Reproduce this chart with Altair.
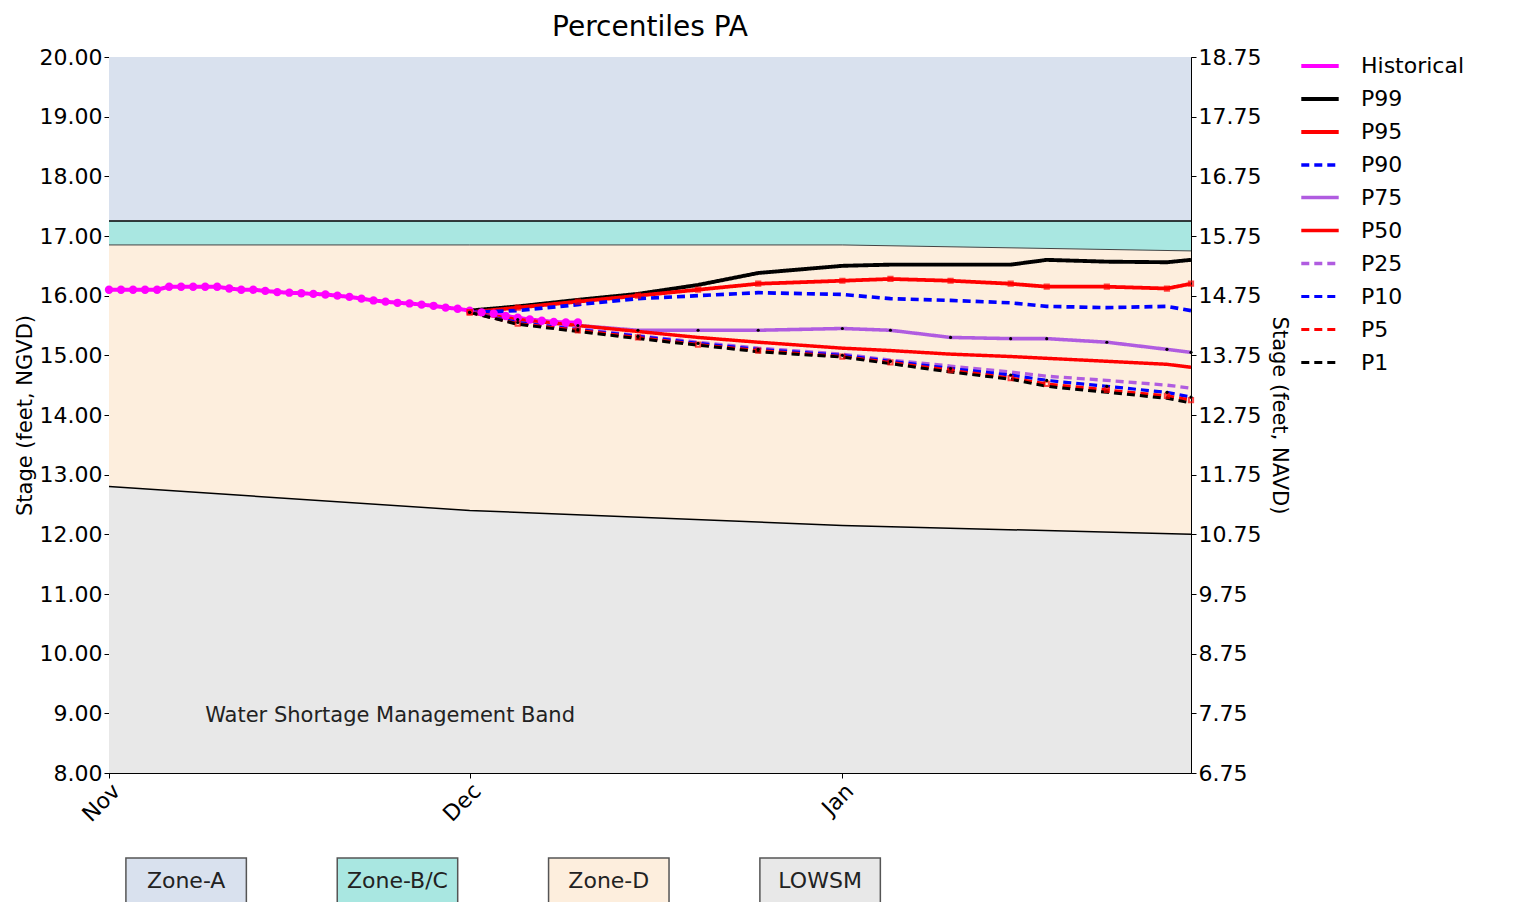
import altair as alt
import pandas as pd

# zone boundaries
zone_dates = ["2023-11-01", "2023-12-01", "2024-01-01", "2024-01-30"]
lowsm = [12.8, 12.4, 12.15, 12.0]
zone_bc_low = [16.85, 16.85, 16.85, 16.75]
zone_a_low = [17.25, 17.25, 17.25, 17.25]
top = [20, 20, 20, 20]
bottom = [8, 8, 8, 8]

hist_dates = pd.date_range("2023-11-01", "2023-12-10").strftime("%Y-%m-%d").tolist()
hist_vals = [16.1, 16.1, 16.1, 16.1, 16.1, 16.15, 16.15, 16.15, 16.15, 16.15,
             16.12, 16.1, 16.1, 16.08, 16.06, 16.05, 16.04, 16.03, 16.02, 16.0,
             15.98, 15.95, 15.92, 15.9, 15.88, 15.87, 15.85, 15.83, 15.8, 15.78,
             15.75, 15.72, 15.7, 15.66, 15.63, 15.6, 15.58, 15.56, 15.55, 15.55]

pct_dates = ["2023-12-01", "2023-12-05", "2023-12-10", "2023-12-15", "2023-12-20",
             "2023-12-25", "2024-01-01", "2024-01-05", "2024-01-10", "2024-01-15",
             "2024-01-18", "2024-01-23", "2024-01-28", "2024-01-30"]
pct = {
    "P99": [15.75, 15.82, 15.93, 16.03, 16.18, 16.38, 16.5, 16.52, 16.52, 16.52, 16.6, 16.57, 16.56, 16.6],
    "P95": [15.72, 15.8, 15.9, 16.0, 16.1, 16.2, 16.25, 16.28, 16.25, 16.2, 16.15, 16.15, 16.12, 16.2],
    "P90": [15.72, 15.75, 15.85, 15.95, 16.0, 16.05, 16.02, 15.95, 15.92, 15.88, 15.82, 15.8, 15.82, 15.75],
    "P75": [15.72, 15.6, 15.5, 15.42, 15.42, 15.42, 15.45, 15.42, 15.3, 15.28, 15.28, 15.22, 15.1, 15.05],
    "P50": [15.72, 15.6, 15.5, 15.4, 15.3, 15.22, 15.12, 15.08, 15.02, 14.98, 14.95, 14.9, 14.85, 14.8],
    "P25": [15.72, 15.55, 15.45, 15.33, 15.22, 15.12, 15.02, 14.92, 14.82, 14.72, 14.65, 14.58, 14.5, 14.45],
    "P10": [15.72, 15.55, 15.43, 15.32, 15.2, 15.1, 15.0, 14.9, 14.78, 14.67, 14.58, 14.48, 14.38, 14.3],
    "P5": [15.72, 15.53, 15.42, 15.3, 15.18, 15.08, 14.98, 14.88, 14.75, 14.62, 14.52, 14.42, 14.32, 14.25],
    "P1": [15.72, 15.52, 15.4, 15.28, 15.17, 15.06, 14.97, 14.86, 14.72, 14.6, 14.48, 14.38, 14.28, 14.2],
}

series = ["Historical", "P99", "P95", "P90", "P75", "P50", "P25", "P10", "P5", "P1"]
colors = ["#ff00ff", "black", "red", "blue", "#b05ce0", "red", "#b05ce0", "blue", "red", "black"]
dashes = [[1, 0], [1, 0], [1, 0], [8, 5], [1, 0], [1, 0], [8, 5], [8, 5], [8, 5], [8, 5]]
widths = [4, 3, 2.5, 3, 2.5, 2.5, 2.5, 3, 2.5, 3]

zones = pd.DataFrame({"date": zone_dates, "lowsm": lowsm, "bc": zone_bc_low,
                      "a": zone_a_low, "top": top, "bottom": bottom})
rows = [{"date": d, "value": v, "series": "Historical"} for d, v in zip(hist_dates, hist_vals)]
for k, vals in pct.items():
    rows += [{"date": d, "value": v, "series": k} for d, v in zip(pct_dates, vals)]
lines = pd.DataFrame(rows)

W, H = 1082, 716
xs = alt.Scale(domain=["2023-11-01", "2024-01-30"])
ys = alt.Scale(domain=[8, 20], nice=False)

base = alt.Chart(zones)
xenc = alt.X("date:T", scale=xs, title=None,
             axis=alt.Axis(values=["2023-11-01", "2023-12-01", "2024-01-01"], format="%b",
                           labelAngle=-45, labelFontSize=22, labelColor="black",
                           labelAlign="right", grid=True, gridDash=[2, 3],
                           gridColor="#555", domainColor="black", tickColor="black"))


def band(lo, hi, color):
    return base.mark_area(color=color, opacity=1).encode(
        x=xenc, y=alt.Y(f"{lo}:Q", scale=ys), y2=f"{hi}:Q")


yenc = alt.Y("value:Q", scale=ys, title="Stage (feet, NGVD)",
             axis=alt.Axis(values=list(range(8, 21)), format=".2f", labelFontSize=22,
                           titleFontSize=21, titleFontWeight="normal", labelColor="black",
                           grid=True, gridDash=[2, 3], gridColor="#555",
                           domainColor="black", tickColor="black"))

zone_layers = (
    band("bottom", "lowsm", "#e8e8e8")
    + band("lowsm", "bc", "#fdeedd")
    + band("bc", "a", "#a9e7e1")
    + band("a", "top", "#d9e1ee")
    + base.mark_line(color="black", strokeWidth=1.5).encode(x="date:T", y="lowsm:Q")
    + base.mark_line(color="#444", strokeWidth=1).encode(x="date:T", y="bc:Q")
    + base.mark_line(color="black", strokeWidth=1.5).encode(x="date:T", y="a:Q")
)

line_layer = alt.Chart(lines).mark_line().encode(
    x="date:T",
    y=yenc,
    color=alt.Color("series:N", scale=alt.Scale(domain=series, range=colors),
                    sort=series, title=None,
                    legend=alt.Legend(orient="none", legendX=1190, legendY=-12,
                                      labelFontSize=22, symbolType="stroke",
                                      symbolSize=1400, symbolStrokeWidth=3,
                                      labelOffset=20, rowPadding=1, labelColor="black")),
    strokeDash=alt.StrokeDash("series:N", scale=alt.Scale(domain=series, range=dashes),
                              sort=series, legend=None),
    strokeWidth=alt.StrokeWidth("series:N", scale=alt.Scale(domain=series, range=widths),
                                legend=None),
)

hist_pts = alt.Chart(lines[lines.series == "Historical"]).mark_circle(
    color="#ff00ff", size=70, opacity=1).encode(x="date:T", y="value:Q")
sq = alt.Chart(lines[lines.series.isin(["P95", "P5"])]).mark_square(
    color="red", filled=False, size=18).encode(x="date:T", y="value:Q")
dots = alt.Chart(lines[lines.series.isin(["P75", "P10"])]).mark_circle(
    color="black", size=10, opacity=1).encode(x="date:T", y="value:Q")

label = alt.Chart(pd.DataFrame({"date": ["2023-11-09"], "v": [8.95],
                                "t": ["Water Shortage Management Band"]})).mark_text(
    align="left", fontSize=21, color="#222").encode(x="date:T", y="v:Q", text="t:N")

right = alt.Chart(pd.DataFrame({"v": [6.75]})).mark_point(opacity=0).encode(
    y=alt.Y("v:Q", scale=alt.Scale(domain=[6.75, 18.75], nice=False),
            title="Stage (feet, NAVD)",
            axis=alt.Axis(orient="right", values=[6.75 + i for i in range(13)], format=".2f",
                          labelFontSize=22, titleFontSize=21, titleFontWeight="normal",
                          labelColor="black", grid=False, domainColor="black",
                          tickColor="black", titlePadding=8)))

main = alt.layer(zone_layers, line_layer, hist_pts, sq, dots, label).properties(width=W, height=H)
main = alt.layer(main, right).resolve_scale(y="independent").properties(
    title=alt.TitleParams("Percentiles PA", fontSize=28, fontWeight="normal"))

zone_names = ["Zone-A", "Zone-B/C", "Zone-D", "LOWSM"]
zone_cols = ["#d9e1ee", "#a9e7e1", "#fdeedd", "#e8e8e8"]
zone_x = [0, 1, 2, 3]
leg = pd.DataFrame({"name": zone_names, "c": zone_cols, "x": zone_x})
lsc = alt.Scale(domain=[-0.08, 5.04])
legend_boxes = alt.Chart(leg).mark_rect(stroke="#555", strokeWidth=1.5).encode(
    x=alt.X("x0:Q", scale=lsc, axis=None), x2="x1:Q",
    color=alt.Color("c:N", scale=None)).transform_calculate(
    x0="datum.x + 0.0", x1="datum.x + 0.57")
legend_text = alt.Chart(leg).mark_text(fontSize=22, color="#222").encode(
    x=alt.X("xm:Q", scale=lsc, axis=None),
    text="name:N").transform_calculate(xm="datum.x + 0.285")
zone_legend = (legend_boxes + legend_text).properties(
    width=W, height=46, view=alt.ViewConfig(stroke="transparent"))

chart = alt.vconcat(main, zone_legend, spacing=30).configure_view(
    stroke="black", strokeWidth=1.5).configure(font="DejaVu Sans")
chart.save("out.html", embed_options={"renderer": "svg", "actions": False})
